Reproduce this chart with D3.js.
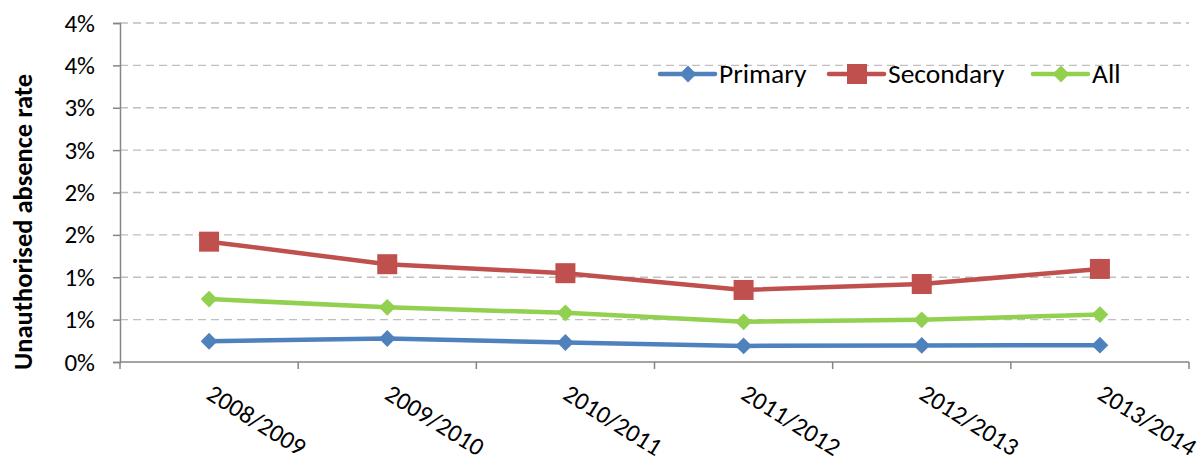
<!DOCTYPE html>
<html>
<head>
<meta charset="utf-8">
<script src="https://cdn.jsdelivr.net/npm/d3@7"></script>
<style>
  body { margin: 0; background: #fff; }
  svg text { font-family: Carlito, Lato, "Open Sans", sans-serif; fill: #000; }
</style>
</head>
<body>
<script>
// school years on the x axis
const years = ["2008/2009", "2009/2010", "2010/2011", "2011/2012", "2012/2013", "2013/2014"]

// unauthorised absence rate, percent
const primary = [0.245, 0.277, 0.23, 0.19, 0.196, 0.198]
const secondary = [1.42, 1.154, 1.048, 0.85, 0.92, 1.098]
const all = [0.743, 0.645, 0.58, 0.474, 0.498, 0.56]

const yTicks = [0, 0.5, 1, 1.5, 2, 2.5, 3, 3.5, 4]

const w = 1203
const h = 465
const mLeft = 120, mRight = 1189, mTop = 23, mBottom = 362
const fs = 26

const xscale = d3.scaleBand()
  .domain(years)
  .range([mLeft, mRight])

const yscale = d3.scaleLinear()
  .domain([0, 4])
  .range([mBottom, mTop])

const svg = d3.select("body")
  .append("svg")
  .attr("width", w)
  .attr("height", h)

// dashed gridlines
svg.append("g")
  .selectAll("line")
  .data(yTicks.slice(1))
  .enter()
  .append("line")
  .attr("x1", mLeft)
  .attr("x2", mRight)
  .attr("y1", d => yscale(d))
  .attr("y2", d => yscale(d))
  .attr("stroke", "#bfbfbf")
  .attr("stroke-width", 1.3)
  .attr("stroke-dasharray", "8,5")

// y axis
const yAxis = d3.axisLeft(yscale)
  .tickValues(yTicks)
  .tickSize(7)
  .tickPadding(18)
  .tickFormat(d => Math.round(d) + "%")

const gy = svg.append("g")
  .attr("transform", "translate(" + mLeft + ",0)")
  .call(yAxis)
gy.select(".domain").attr("stroke", "#868686").attr("stroke-width", 1.5)
gy.selectAll(".tick line").attr("stroke", "#868686").attr("stroke-width", 1.5)
gy.selectAll(".tick text").attr("font-size", 25).style("font-family", "Carlito, Lato, sans-serif")

// x axis: ticks at category boundaries
svg.append("line")
  .attr("x1", mLeft).attr("x2", mRight)
  .attr("y1", mBottom).attr("y2", mBottom)
  .attr("stroke", "#868686").attr("stroke-width", 1.5)

const bounds = years.map(d => xscale(d)).concat([mRight])
svg.append("g")
  .selectAll("line")
  .data(bounds)
  .enter()
  .append("line")
  .attr("x1", d => d).attr("x2", d => d)
  .attr("y1", mBottom).attr("y2", mBottom + 7)
  .attr("stroke", "#868686").attr("stroke-width", 1.5)

const cx = d => xscale(d) + xscale.bandwidth() / 2

svg.append("g")
  .selectAll("text")
  .data(years)
  .enter()
  .append("text")
  .attr("transform", d => "translate(" + (cx(d) - 4) + "," + (mBottom + 36) + ") rotate(32)")
  .attr("font-size", 25)
  .text(d => d)

// y title
svg.append("text")
  .attr("transform", "translate(32,222) rotate(-90)")
  .attr("text-anchor", "middle")
  .attr("font-size", 26.5)
  .attr("font-weight", "bold")
  .text("Unauthorised absence rate")

const diamond = d3.symbol().type(d3.symbolDiamond2).size(180)

const series = [
  { name: "Primary", values: primary, color: "#4f81bd", marker: "diamond", lx: 660 },
  { name: "Secondary", values: secondary, color: "#c0504d", marker: "square", lx: 829 },
  { name: "All", values: all, color: "#92d050", marker: "diamond", lx: 1033 }
]

const line = d3.line()
  .x((d, i) => cx(years[i]))
  .y(d => yscale(d))

function drawMarker(g, x, y, s) {
  if (s.marker == "square") {
    g.append("rect")
      .attr("x", x - 10).attr("y", y - 10)
      .attr("width", 20).attr("height", 20)
      .attr("fill", s.color)
  } else {
    g.append("path")
      .attr("d", diamond)
      .attr("transform", "translate(" + x + "," + y + ")")
      .attr("fill", s.color)
  }
}

series.forEach(s => {
  const g = svg.append("g")
  g.append("path")
    .datum(s.values)
    .attr("d", line)
    .attr("fill", "none")
    .attr("stroke", s.color)
    .attr("stroke-width", 4.5)
    .attr("stroke-linejoin", "round")
  s.values.forEach((v, i) => drawMarker(g, cx(years[i]), yscale(v), s))

  // legend entry
  const lg = svg.append("g")
  lg.append("line")
    .attr("x1", s.lx).attr("x2", s.lx + 55)
    .attr("y1", 74).attr("y2", 74)
    .attr("stroke", s.color).attr("stroke-width", 4.5)
    .attr("stroke-linecap", "round")
  drawMarker(lg, s.lx + 28, 74, s)
  lg.append("text")
    .attr("x", s.lx + 59)
    .attr("y", 83)
    .attr("font-size", 27.5)
    .text(s.name)
})
</script>
</body>
</html>
